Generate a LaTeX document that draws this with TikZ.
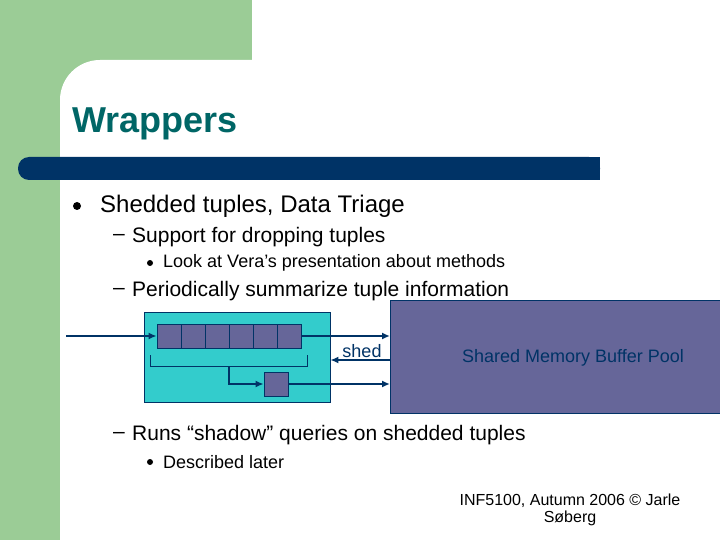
\documentclass[tikz,border=0pt]{standalone}
\usepackage{fontspec}
\setmainfont{Liberation Sans}
\usetikzlibrary{arrows.meta}
\definecolor{grn}{RGB}{155,204,150}
\definecolor{navy}{RGB}{0,51,102}
\definecolor{teal1}{RGB}{0,102,102}
\definecolor{cyanb}{RGB}{51,204,204}
\definecolor{purp}{RGB}{102,102,153}
\begin{document}
\begin{tikzpicture}[x=1pt,y=-1pt,
  ar/.style={draw=navy,line width=2pt,-{Latex[length=8pt,width=7pt]}},
  cell/.style={draw=navy,line width=0.8pt,fill=purp,minimum width=24pt,minimum height=24pt,inner sep=0pt},
  txt/.style={anchor=west,inner sep=0pt,text=black},
  dot/.style={circle,fill=black,inner sep=0pt}]
\useasboundingbox (0,0) rectangle (720,540);
\fill[grn] (0,0) rectangle (720,540);
\fill[white] (252,0) rectangle (720,60);
\fill[white,rounded corners=40pt] (60,60) rectangle (780,600);
\fill[navy,rounded corners=11pt] (18,157) rectangle (600,180);
\fill[navy] (300,157) rectangle (600,180);
\node[txt,font=\bfseries\fontsize{36}{40}\selectfont,text=teal1] (title) at (72,124) {Wrappers};
\node[dot,minimum size=8pt] (b1) at (77,206) {};
\node[txt,font=\fontsize{24}{28}\selectfont] (t1) at (100,206) {Shedded tuples, Data Triage};
\node[txt,font=\fontsize{21}{24}\selectfont] (d1) at (113,237) {--};
\node[txt,font=\fontsize{21}{24}\selectfont] (t2) at (132,237) {Support for dropping tuples};
\node[dot,minimum size=6pt] (b2) at (150,263) {};
\node[txt,font=\fontsize{18}{21}\selectfont] (t3) at (163,263) {Look at Vera’s presentation about methods};
\node[txt,font=\fontsize{21}{24}\selectfont] (d2) at (113,291) {--};
\node[txt,font=\fontsize{21}{24}\selectfont] (t4) at (132,291) {Periodically summarize tuple information};
\node[txt,font=\fontsize{21}{24}\selectfont] (d3) at (113,435) {--};
\node[txt,font=\fontsize{21}{24}\selectfont] (t5) at (132,435) {Runs “shadow” queries on shedded tuples};
\node[dot,minimum size=6pt] (b3) at (150,462) {};
\node[txt,font=\fontsize{18}{21}\selectfont] (t6) at (163,462) {Described later};
\node[font=\fontsize{16}{17}\selectfont,align=center] (foot) at (570,510) {INF5100, Autumn 2006 © Jarle\\Søberg};
% diagram
\node[draw=navy,line width=0.8pt,fill=cyanb,minimum width=186pt,minimum height=90pt,inner sep=0pt] (wrap) at (237,357) {};
\node[draw=navy,fill=purp,minimum width=330pt,minimum height=113pt,inner sep=0pt,anchor=north west] (pool) at (390,300) {};
\node[font=\fontsize{18}{21}\selectfont,text=navy] (ptxt) at (573,358) {Shared Memory Buffer Pool};
\foreach \i in {0,...,5}{\node[cell] (c\i) at (169+24*\i,336) {};}
\node[cell] (sm) at (276,384) {};
\coordinate (in) at (66,336);
\draw[ar] (in) -- (c0.west);
\draw[ar] (c5.east) -- (c5.east -| pool.west);
\coordinate (shs) at (390,360);
\draw[ar] (shs) -- (shs -| wrap.east);
\node[font=\fontsize{18}{21}\selectfont,anchor=south,inner sep=1pt,text=navy] (shed) at (362,359) {shed};
\draw[navy,line width=0.8pt] (150,355) -- (150,366) -- (307,366) -- (307,355);
\coordinate (bm) at (229,366);
\draw[ar] (bm) |- (sm.west);
\draw[ar] (sm.east) -- (sm.east -| pool.west);
\end{tikzpicture}
\end{document}
